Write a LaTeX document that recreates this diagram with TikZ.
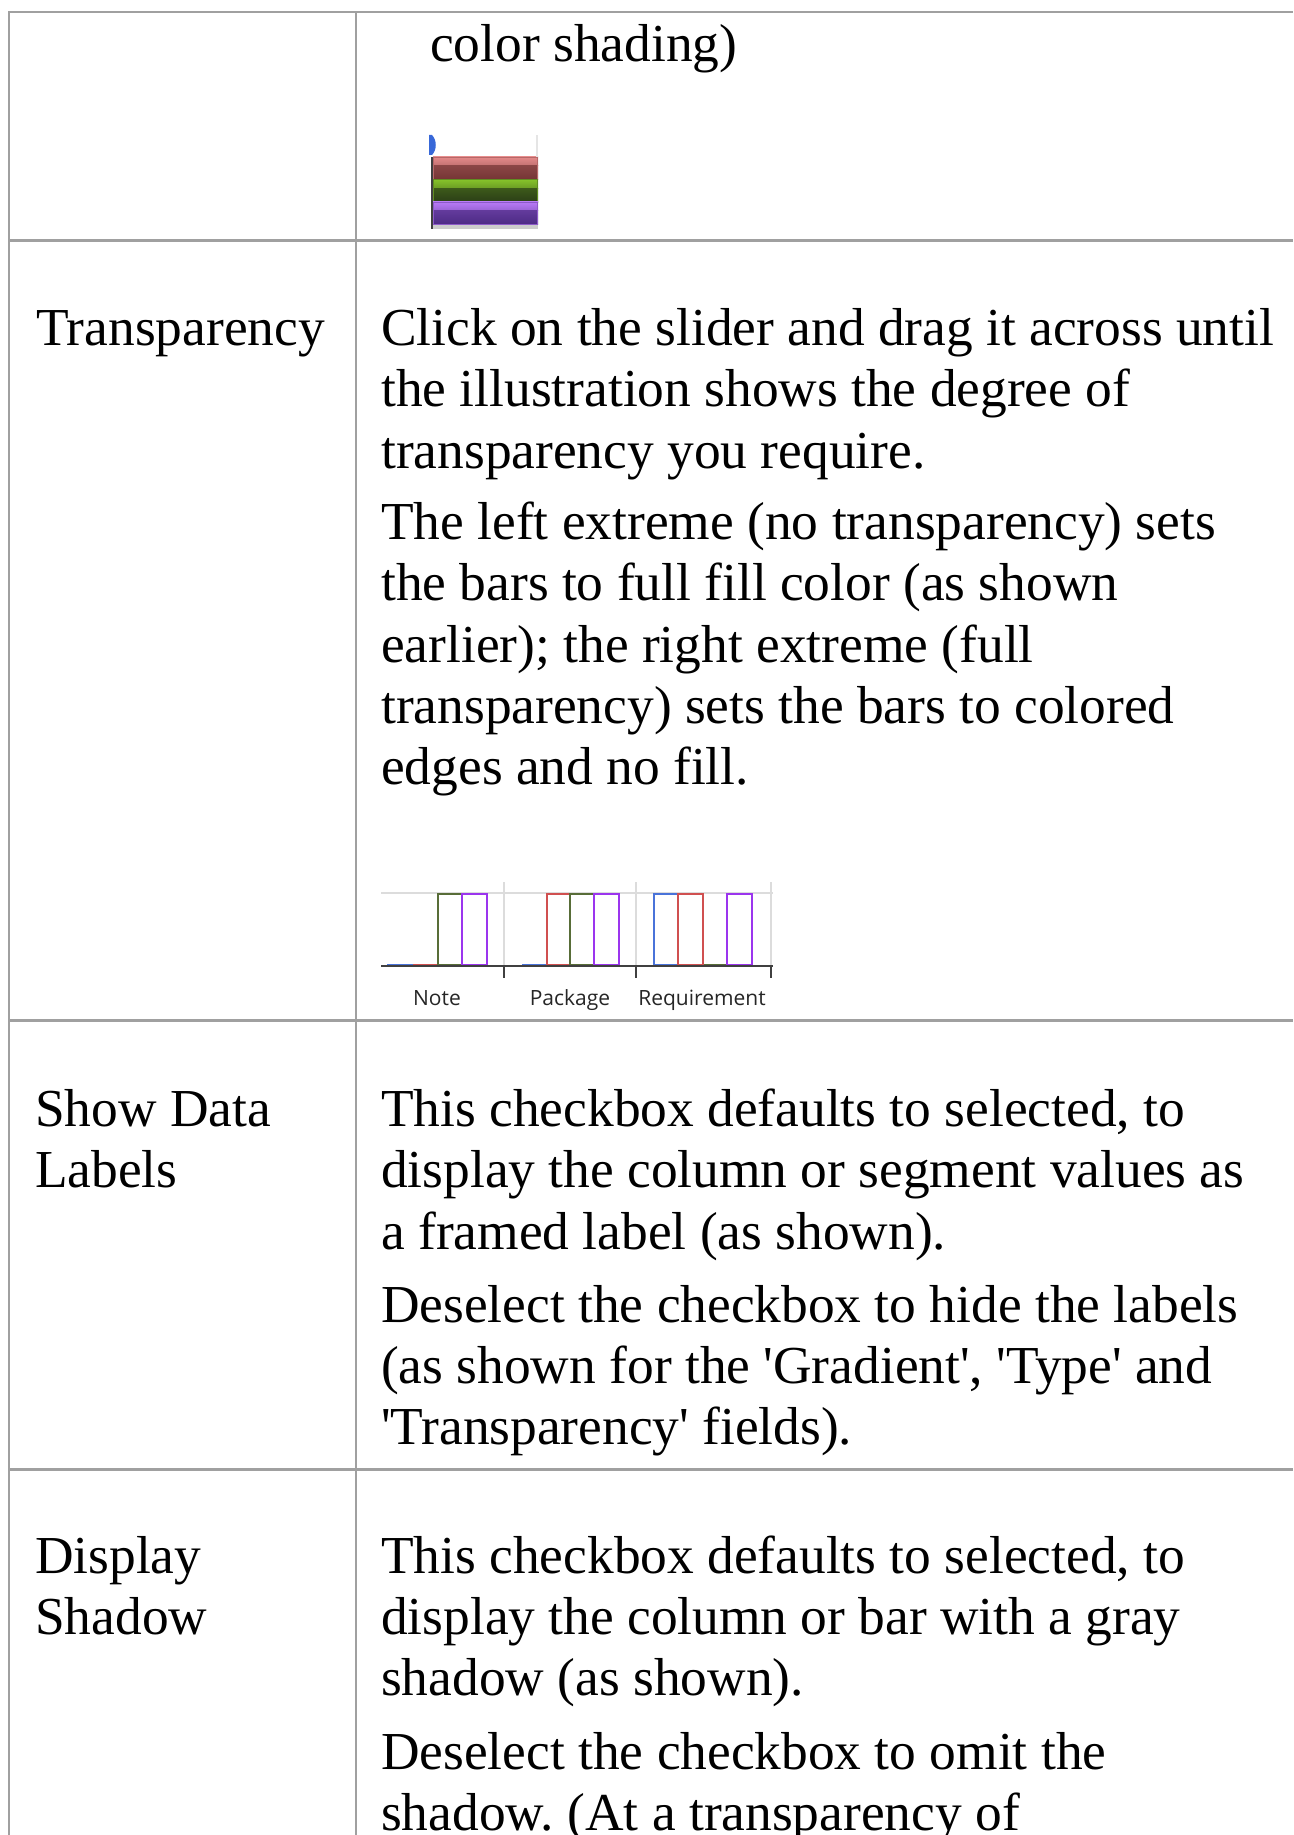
\documentclass[tikz,border=0pt]{standalone}
\usepackage{fontspec}
\setmainfont{Liberation Serif}
\newfontfamily\chartfont{Open Sans}
\DeclareRobustCommand\cellfont{\fontsize{53.4pt}{61.3pt}\selectfont}
\definecolor{rule}{HTML}{A0A0A0}
\definecolor{gridgray}{HTML}{DCDCDC}
\definecolor{axisgray}{HTML}{404040}
\definecolor{labgray}{HTML}{262626}
\definecolor{blueb}{HTML}{4A73D9}
\definecolor{redb}{HTML}{D05050}
\definecolor{greenb}{HTML}{586D38}
\definecolor{purpleb}{HTML}{9B35EE}
\definecolor{redtop}{HTML}{E48A8A}
\definecolor{redlow}{HTML}{743434}
\definecolor{greentop}{HTML}{86C22A}
\definecolor{greenlow}{HTML}{2A3E16}
\definecolor{purpletop}{HTML}{B87AF6}
\definecolor{purplelow}{HTML}{4C2A84}
\definecolor{markblue}{HTML}{3868D8}
\frenchspacing
\begin{document}
\begin{tikzpicture}[x=1pt,y=-1pt]
\tikzset{cell/.style={anchor=base west,inner sep=0pt,text width=940pt,align=justify,font=\cellfont},
	sep/.style={draw=rule,line width=1.6pt},
	gridln/.style={draw=gridgray,line width=2pt},
	axis/.style={draw=axisgray,line width=2pt},
	bar/.style={line width=2pt},
	tag/.style={anchor=base,inner sep=0pt,text=labgray,font=\chartfont\fontsize{21pt}{24pt}\selectfont}}
\useasboundingbox (0,0) rectangle (1293,1835);
\clip (0,0) rectangle (1293,1835);
\draw[sep] (8.7,11.7) -- (8.7,1835) (356,11.7) -- (356,1835);
\foreach \y/\w in {11.8/1.7,240.8/2.7,1020.8/2.7,1469.3/2.7}
	\draw[draw=rule,line width=\w pt] (8,\y) -- (1293,\y);
\node[cell] (shading) at (430,62) {color shading)};
\foreach \c/\y in {red/157,green/179.5,purple/202}{
	\shade[top color=\c top,bottom color=\c top!70!\c low] (433,\y) rectangle (538,\y+9);
	\shade[top color=\c low!80!\c top,bottom color=\c low] (433,\y+9) rectangle (538,\y+23);
	\draw[\c top!60!\c low,line width=1pt] (433.5,\y+0.5) rectangle (537.5,\y+22.5);}
\fill[gray!40] (433,225) rectangle (538,229);
\draw[gray!20,line width=2pt] (537,135) -- (537,157);
\draw[axisgray,line width=1.6pt] (432,157) -- (432,229);
\fill[markblue] (429,135) -- (432,135) .. controls (437,140) and (437,150) .. (432,155) -- (429,155) -- cycle;
\node[cell] (tr) at (36,345.5) {Transparency};
\node[cell] (tra) at (381,345.5) {Click on the slider and drag it across until\\the illustration shows the degree of\\transparency you require.};
\node[cell] (trb) at (381,539.5) {The left extreme (no transparency) sets\\the bars to full fill color (as shown\\earlier); the right extreme (full\\transparency) sets the bars to colored\\edges and no fill.};
\draw[gridln] (381,893.3) -- (773,893.3);
\foreach \x in {504,636,771}
	\draw[gridln] (\x,882) -- (\x,966);
\foreach \a/\b/\c in {387/413/blueb,413/438/redb,522/547/blueb,703/727/greenb}
	\draw[bar,draw=\c] (\a,965) -- (\b,965);
\foreach \a/\b/\c in {438/462/greenb,462/487/purpleb,547/570/redb,570/594/greenb,594/619/purpleb,654/678/blueb,678/703/redb,727/752/purpleb}
	\draw[bar,draw=\c] (\a,893.5) rectangle (\b,965);
\draw[axis] (381,966) -- (773,966);
\foreach \x in {504,636,771}
	\draw[axis] (\x,966) -- (\x,978);
\node[tag] (note) at (437,1005) {Note};
\node[tag] (package) at (570,1005) {Package};
\node[tag] (requirement) at (702,1005) {Requirement};
\node[cell] (sdl) at (35,1126.5) {Show Data\\Labels};
\node[cell] (sdla) at (381,1126.5) {This checkbox defaults to selected, to\\display the column or segment values as\\a framed label (as shown).};
\node[cell] (sdlb) at (381,1322) {Deselect the checkbox to hide the labels\\(as shown for the \textquotesingle Gradient\textquotesingle, \textquotesingle Type\textquotesingle{} and\\\textquotesingle Transparency\textquotesingle{} fields).};
\node[cell] (ds) at (35,1573) {Display\\Shadow};
\node[cell] (dsa) at (381,1573) {This checkbox defaults to selected, to\\display the column or bar with a gray\\shadow (as shown).};
\node[cell] (dsb) at (381,1769) {Deselect the checkbox to omit the\\shadow. (At a transparency of};
\end{tikzpicture}
\end{document}
